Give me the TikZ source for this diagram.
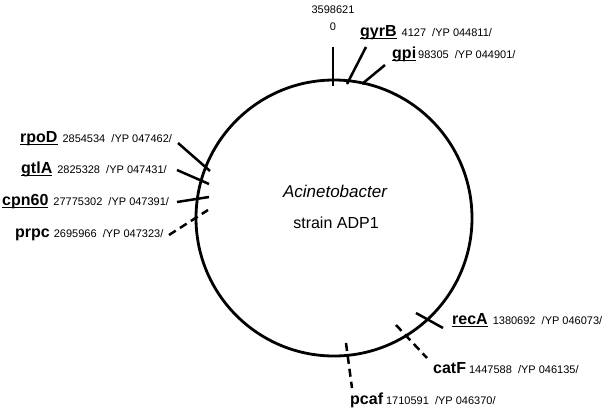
\documentclass[tikz,border=0pt]{standalone}
\usepackage{fontspec}
\setmainfont{Liberation Sans}
\usepackage{tikz}
\newcommand{\gname}[1]{{\fontsize{16}{16}\selectfont\bfseries #1}}
\newcommand{\ugname}[1]{{\fontsize{16}{16}\selectfont\bfseries
   \setbox0\hbox{#1}\rlap{\rule[-3pt]{\wd0}{1.4pt}}\box0}}
\newcommand{\gnum}[1]{{\fontsize{11}{12}\selectfont #1}}

\begin{document}
\begin{tikzpicture}[x=1pt,y=-1pt,
   lbl/.style={anchor=base west, inner sep=0pt},
   tick/.style={line width=2.5pt},
   dtick/.style={line width=2.5pt, dash pattern=on 8pt off 5pt}]
\useasboundingbox (0,0) rectangle (605,410);
% chromosome
\node[circle, draw, line width=2.8pt, minimum size=276pt, inner sep=0pt] (chrom) at (334,218) {};
\node[font=\fontsize{17}{17}\selectfont\itshape] (genus) at (335,191) {Acinetobacter};
\node[font=\fontsize{16}{16}\selectfont] (strain) at (336,223) {strain ADP1};
% origin
\node[font=\fontsize{11}{12}\selectfont] (end) at (333,10) {3598621};
\node[font=\fontsize{11}{12}\selectfont] (zero) at (333,27) {0};
\coordinate (zeroa) at (333,47);
\coordinate (zerob) at (333,86);
\draw[tick] (zeroa) -- (zerob);
% genes, right side
\node[lbl] (gyrB) at (360,36) {\ugname{gyrB}\hspace{5pt}\gnum{4127\ \ /YP 044811/}};
\coordinate (gyrBa) at (366,47);
\coordinate (gyrBb) at (347,84);
\draw[tick] (gyrBa) -- (gyrBb);
\node[lbl] (gpi) at (392,58) {\ugname{gpi}\hspace{2pt}\gnum{98305\ \ /YP 044901/}};
\coordinate (gpia) at (385,65);
\coordinate (gpib) at (362,84);
\draw[tick] (gpia) -- (gpib);
\node[lbl] (recA) at (452,324) {\ugname{recA}\hspace{5pt}\gnum{1380692\ \ /YP 046073/}};
\coordinate (recAa) at (416,313);
\coordinate (recAb) at (443,328);
\draw[tick] (recAa) -- (recAb);
\node[lbl] (catF) at (433,373) {\gname{catF}\hspace{3pt}\gnum{1447588\ \ /YP 046135/}};
\coordinate (catFa) at (396,325);
\coordinate (catFb) at (427,358);
\draw[dtick] (catFa) -- (catFb);
\node[lbl] (pcaf) at (350,404) {\gname{pcaf}\hspace{3pt}\gnum{1710591\ \ /YP 046370/}};
\coordinate (pcafa) at (346,343);
\coordinate (pcafb) at (352,388);
\draw[dtick] (pcafa) -- (pcafb);
% genes, left side
\node[lbl] (rpoD) at (20,142) {\ugname{rpoD}\hspace{5pt}\gnum{2854534\ \ /YP 047462/}};
\coordinate (rpoDa) at (178,143);
\coordinate (rpoDb) at (210,171);
\draw[tick] (rpoDa) -- (rpoDb);
\node[lbl] (gtlA) at (21,173) {\ugname{gtlA}\hspace{5pt}\gnum{2825328\ \ /YP 047431/}};
\coordinate (gtlAa) at (177,170);
\coordinate (gtlAb) at (209,184);
\draw[tick] (gtlAa) -- (gtlAb);
\node[lbl] (cpn60) at (2,205) {\ugname{cpn60}\hspace{5pt}\gnum{27775302\ \ /YP 047391/}};
\coordinate (cpna) at (177,202);
\coordinate (cpnb) at (209,197);
\draw[tick] (cpna) -- (cpnb);
\node[lbl] (prpc) at (15,237) {\gname{prpc}\hspace{4pt}\gnum{2695966\ \ /YP 047323/}};
\coordinate (prpca) at (169,235);
\coordinate (prpcb) at (208,210);
\draw[dtick] (prpca) -- (prpcb);
\end{tikzpicture}
\end{document}
